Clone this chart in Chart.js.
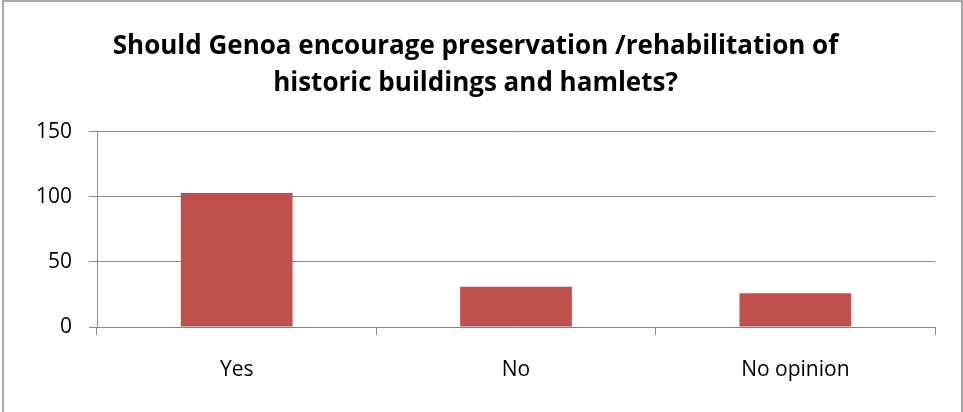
<!DOCTYPE html>
<html>
<head>
<meta charset="utf-8">
<script src="https://cdn.jsdelivr.net/npm/chart.js@4"></script>
<style>
  body { margin: 0; background: #fff; }
  #wrap { position: relative; width: 963px; height: 412px; }
</style>
</head>
<body>
<div id="wrap"><canvas id="answerChart"></canvas></div>
<script>
const categories = ['Yes', 'No', 'No opinion'];
const answerCounts = [103, 31, 26];
const yTicks = [0, 50, 100, 150];
const titleLines = ['Should Genoa encourage preservation /rehabilitation of', 'historic buildings and hamlets?'];

const frame = {
    id: 'frame',
    afterDraw(chart) {
        const ctx = chart.ctx;
        ctx.save();
        ctx.strokeStyle = '#8c8c8c';
        ctx.lineWidth = 1.5;
        ctx.strokeRect(3, 1, chart.width - 4, chart.height + 5);
        ctx.restore();
    }
};

new Chart(document.getElementById('answerChart'), {
    type: 'bar',
    data: {
        labels: categories,
        datasets: [{
            data: answerCounts,
            backgroundColor: '#c0504d',
            borderWidth: 0,
            barPercentage: 0.4,
            categoryPercentage: 1
        }]
    },
    options: {
        responsive: true,
        maintainAspectRatio: false,
        animation: false,
        layout: { padding: { left: 16, right: 28, top: 0, bottom: 0 } },
        plugins: {
            legend: { display: false },
            tooltip: { enabled: false },
            title: {
                display: true,
                text: titleLines,
                color: '#000',
                font: { family: 'Open Sans', size: 26, weight: 'bold', lineHeight: 1.42 },
                padding: { top: 28, bottom: 30 }
            }
        },
        scales: {
            x: {
                grid: { drawOnChartArea: false, drawTicks: true, tickLength: 8, color: '#888' },
                border: { color: '#888' },
                ticks: { color: '#000', font: { family: 'Open Sans', size: 21 }, padding: 22 },
                afterFit: s => { s.height = 85; }
            },
            y: {
                min: 0,
                max: 150,
                afterBuildTicks: s => { s.ticks = yTicks.map(v => ({ value: v })); },
                grid: { color: '#888', tickLength: 8 },
                border: { color: '#888' },
                ticks: { color: '#000', font: { family: 'Open Sans', size: 21 }, padding: 17 },
                afterFit: s => { s.width = 81; }
            }
        }
    },
    plugins: [frame]
});
</script>
</body>
</html>
